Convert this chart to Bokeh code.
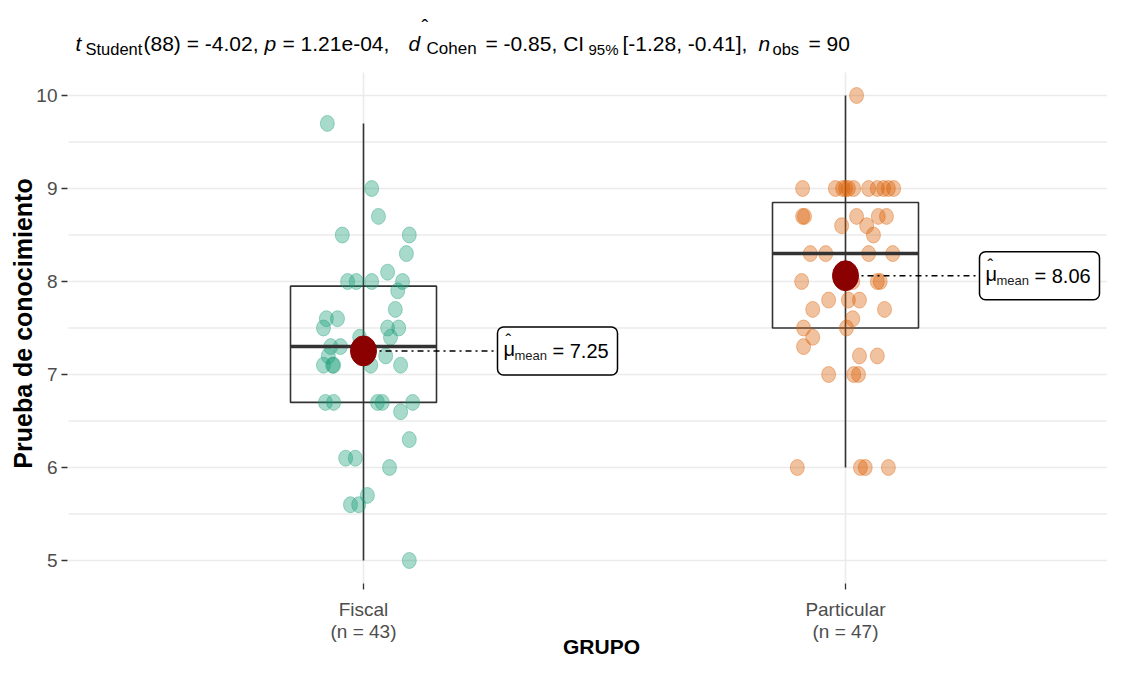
import numpy as np
from bokeh.plotting import figure
from bokeh.models import Range1d
from bokeh.embed import file_html
from bokeh.resources import INLINE
from bokeh.core.properties import value

# ---------------- data ----------------
categories = ["Fiscal", "Particular"]
fiscal_values = [9.7, 9.0, 8.7, 8.5, 8.5, 8.3, 8.0, 8.0, 8.0, 8.1, 8.0, 7.9, 7.7, 7.6, 7.6,
                 7.5, 7.5, 7.5, 7.4, 7.3, 7.4, 7.2, 7.1, 7.1, 7.1, 7.2, 7.1, 6.7, 6.7, 6.7,
                 6.7, 6.7, 6.6, 6.3, 6.1, 6.1, 6.0, 5.7, 5.6, 5.6, 5.0, 7.3, 7.1]
fiscal_jitter = [-0.075, 0.017, 0.031, -0.044, 0.095, 0.089, -0.033, -0.015, 0.017, 0.050,
                 0.081, 0.071, 0.066, -0.077, -0.054, -0.083, 0.050, 0.073, -0.008, -0.068,
                 0.056, -0.073, -0.083, -0.062, 0.015, 0.046, 0.077, -0.079, -0.062, 0.029,
                 0.039, 0.102, 0.077, 0.095, -0.037, -0.017, 0.054, 0.008, -0.027, -0.010,
                 0.095, -0.048, -0.064]
particular_values = [10.0,
                     9.0, 9.0, 9.0, 9.0, 9.0, 9.0, 9.0, 9.0, 9.0, 9.0, 9.0,
                     8.7, 8.7, 8.7, 8.7, 8.7, 8.6, 8.6, 8.5,
                     8.3, 8.3, 8.3, 8.3, 8.0, 8.0, 8.0, 8.0,
                     7.8, 7.8, 7.8, 7.7, 7.7, 7.6, 7.5, 7.5, 7.4, 7.3,
                     7.2, 7.2, 7.0, 7.0, 7.0, 6.0, 6.0, 6.0, 6.0]
particular_jitter = [0.023,
                     -0.089, -0.021, -0.006, 0.006, 0.017, 0.048, 0.066, 0.079, 0.089, 0.100, 0.000,
                     -0.089, -0.085, 0.023, 0.068, 0.085, -0.008, 0.044, 0.058,
                     -0.073, -0.041, 0.048, 0.098, -0.091, 0.066, 0.072, 0.015,
                     -0.035, 0.006, 0.029, -0.068, 0.081, 0.015, -0.087, 0.002, -0.068, -0.087,
                     0.029, 0.066, -0.035, 0.017, 0.027, -0.100, 0.031, 0.041, 0.089]
group_values = [fiscal_values, particular_values]
group_jitter = [fiscal_jitter, particular_jitter]
group_colors = ["#1B9E77", "#D95F02"]

t_df = 88
t_value = -4.02
p_value = 1.21e-04
d_cohen = -0.85
ci_low, ci_high = -1.28, -0.41
y_ticks = [5, 6, 7, 8, 9, 10]
y_minor = [5.5, 6.5, 7.5, 8.5, 9.5]
x_title = "GRUPO"
y_title = "Prueba de conocimiento"

# ---------------- layout (picture pixel <-> data) ----------------
W, H = 1107, 659
XPX, YPX = 482.0, 93.0          # pixels per data unit
X0PX, Y10PX = 363.0, 95.0       # px of category 1 and of y = 10
MID = 0.35                      # baseline -> middle of em box, in font sizes


def X(px):
    return 1 + (px - X0PX) / XPX


def Y(py):
    return 10 - (py - Y10PX) / YPX


SANS = "Liberation Sans"
GRID = "#EBEBEB"
INK = "#333333"

p = figure(width=W, height=H, x_range=Range1d(X(0), X(W)), y_range=Range1d(Y(H), Y(0)),
           output_backend="svg", toolbar_location=None, x_axis_location=None,
           y_axis_location=None, min_border=0, outline_line_color=None)
p.xgrid.visible = False
p.ygrid.visible = False


def put(x, y, s, size, style="normal", color="black", align="left", angle=0.0,
        font=SANS, on_baseline=True):
    # y is the text baseline (data units) unless on_baseline is False (then the middle)
    ym = y + MID * size / YPX if on_baseline else y
    p.text(x=[x], y=[ym], text=[s], text_font=value(font), text_font_size=f"{size}px",
           text_font_style=style, text_color=color, text_align=align,
           text_baseline="middle", angle=angle)


# ---------------- panel grid ----------------
panel_left, panel_right = X(68), X(W)
panel_bottom, panel_top = Y(583), Y(72)
p.segment(x0=[panel_left] * len(y_minor), x1=[panel_right] * len(y_minor), y0=y_minor,
          y1=y_minor, line_color=GRID, line_width=1.3)
p.segment(x0=[panel_left] * len(y_ticks), x1=[panel_right] * len(y_ticks), y0=y_ticks,
          y1=y_ticks, line_color=GRID, line_width=1.6)
xs = [i + 1 for i in range(len(categories))]
p.segment(x0=xs, x1=xs, y0=[panel_bottom] * len(xs), y1=[panel_top] * len(xs),
          line_color=GRID, line_width=1.6)

# ---------------- axes (ticks, labels, titles) ----------------
p.segment(x0=[X(61)] * len(y_ticks), x1=[X(67)] * len(y_ticks), y0=y_ticks, y1=y_ticks,
          line_color=INK, line_width=1.3)
p.text(x=[X(57)] * len(y_ticks), y=y_ticks, text=[str(v) for v in y_ticks],
       text_font=value(SANS), text_font_size="19px", text_color="#4D4D4D",
       text_align="right", text_baseline="middle")
p.segment(x0=xs, x1=xs, y0=[Y(583)] * len(xs), y1=[Y(589)] * len(xs), line_color=INK,
          line_width=1.3)
p.text(x=xs, y=[Y(616 - MID * 19)] * len(xs), text=categories, text_font=value(SANS),
       text_font_size="19px", text_color="#4D4D4D", text_align="center",
       text_baseline="middle")
p.text(x=xs, y=[Y(638 - MID * 19)] * len(xs), text=[f"(n = {len(v)})" for v in group_values],
       text_font=value(SANS), text_font_size="19px", text_color="#4D4D4D",
       text_align="center", text_baseline="middle")
put(X(601), Y(653), x_title, 21, style="bold", align="center")
put(X(22), Y(323), y_title, 25, style="bold", align="center", angle=np.pi / 2,
    on_baseline=False)

# ---------------- title ----------------
n_obs = sum(len(v) for v in group_values)
pieces = [
    (75, 50, "t", 21, "italic"),
    (85, 54, "Student", 16.5, "normal"),
    (143, 50, f"({t_df}) = {t_value:.2f},", 21, "normal"),
    (264, 50, "p", 21, "italic"),
    (282, 50, f"= {p_value:.2e},", 21, "normal"),
    (408, 50, "d", 21, "italic"),
    (421, 33, "\u02c6", 20, "normal"),
    (426, 54, "Cohen", 17, "normal"),
    (485, 50, f"= {d_cohen:.2f}, CI", 21, "normal"),
    (588, 54, "95%", 15, "normal"),
    (622, 50, f"[{ci_low:.2f}, {ci_high:.2f}],", 21, "normal"),
    (758, 50, "n", 21, "italic"),
    (772, 54, "obs", 16.5, "normal"),
    (808, 50, f"= {n_obs}", 21, "normal"),
]
for px, py, s, size, style in pieces:
    put(X(px), Y(py), s, size, style=style)

# ---------------- boxes, points, means ----------------
BOX_HALF = 73 / XPX
for i, (vals, jit, col) in enumerate(zip(group_values, group_jitter, group_colors)):
    xc = i + 1
    arr = np.array(vals)
    q1, med, q3 = np.percentile(arr, [25, 50, 75])
    iqr = q3 - q1
    lo = arr[arr >= q1 - 1.5 * iqr].min()
    hi = arr[arr <= q3 + 1.5 * iqr].max()
    mean = arr.mean()

    p.segment(x0=[xc], x1=[xc], y0=[lo], y1=[hi], line_color=INK, line_width=1.6)
    p.quad(left=[xc - BOX_HALF], right=[xc + BOX_HALF], bottom=[q1], top=[q3],
           fill_color=None, line_color=INK, line_width=1.6)

    p.ellipse(x=[xc + j for j in jit], y=vals, width=14, height=16,
              width_units="screen", height_units="screen",
              fill_color=col, fill_alpha=0.38, line_color=col, line_alpha=0.38,
              line_width=1)

    p.segment(x0=[xc - BOX_HALF], x1=[xc + BOX_HALF], y0=[med], y1=[med],
              line_color=INK, line_width=3.5)

    box_left = xc + 134 / XPX
    box_right = xc + 254 / XPX
    p.segment(x0=[xc], x1=[box_left], y0=[mean], y1=[mean], line_color="black",
              line_width=1.5, line_dash="dotdash")
    p.ellipse(x=[xc], y=[mean], width=26, height=30, width_units="screen",
              height_units="screen", fill_color="#8B0000", line_color="#8B0000")
    p.quad(left=[box_left], right=[box_right], bottom=[mean - 24 / YPX],
           top=[mean + 24 / YPX], fill_color="white", line_color="black", line_width=1.5,
           border_radius=6)
    put(xc + 140 / XPX, mean - 5 / YPX, "\u03bc", 20)
    put(xc + 142 / XPX, mean + 4 / YPX, "\u02c6", 17)
    put(xc + 151 / XPX, mean - 9 / YPX, "mean", 13, color="#1a1a1a")
    put(xc + 189 / XPX, mean - 7 / YPX, f"= {mean:.2f}", 20)

open("out.html", "w").write(file_html(p, INLINE))
